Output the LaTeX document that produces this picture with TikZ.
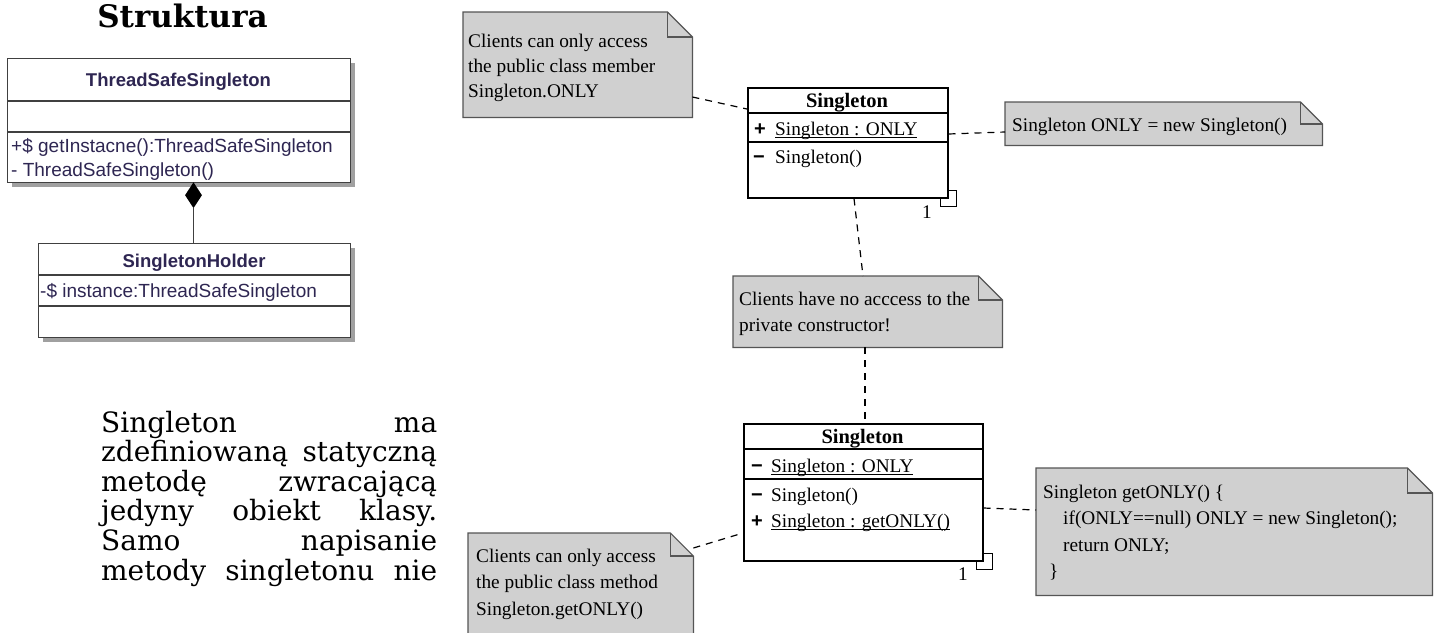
\documentclass[tikz,border=0pt]{standalone}
\usepackage{fontspec}
\setmainfont{Liberation Serif}
\newfontfamily\uisans{Liberation Sans}
\newfontfamily\bodyserif{DejaVu Serif}
\usetikzlibrary{shapes.geometric,shadows}

\definecolor{umlink}{RGB}{46,38,82}
\definecolor{notefill}{RGB}{208,208,208}
\definecolor{noteline}{RGB}{85,85,85}
\definecolor{classline}{RGB}{64,64,64}
\definecolor{shadowgray}{RGB}{160,160,160}

% multi-line text block whose baseline is the first line's baseline
\newcommand\lines[1]{\vtop{\let\\\cr\halign{##\hfil\cr#1\crcr}}}
% underline sitting close to the baseline (UML static members)
\newcommand\ulined[1]{\setbox0\hbox{#1}\rlap{\rule[-2.6pt]{\wd0}{1.1pt}}\box0}
% one justified line of the description paragraph
\newcommand\fullline[1]{\hbox to 336pt{#1}}
% grey note with a folded top-right corner, drawn over a named node
\newcommand\foldnote[2]{%
  \filldraw[notepaint] (#1.north west) -- ([xshift=-#2]#1.north east)
    -- ([yshift=-#2]#1.north east) -- (#1.south east) -- (#1.south west) -- cycle;
  \draw[notepaint, fill=none] ([xshift=-#2]#1.north east) |- ([yshift=-#2]#1.north east);}

\tikzset{
  classbox/.style={draw=classline, line width=1.3pt, fill=white, inner sep=0pt, anchor=north west,
    drop shadow={shadow xshift=4pt, shadow yshift=-4pt, fill=shadowgray, opacity=1}},
  classdiv/.style={draw=classline, line width=1.3pt},
  umlbox/.style={draw=black, line width=1.5pt, fill=white, inner sep=0pt, anchor=north west},
  umldiv/.style={draw=black, line width=1.3pt},
  noterect/.style={inner sep=0pt, anchor=north west},
  notepaint/.style={fill=notefill, draw=noteline, line width=1.2pt, line join=miter},
  txt/.style={inner sep=0pt, anchor=base west},
  sanstitle/.style={inner sep=0pt, anchor=base, text=umlink, font=\uisans\bfseries\fontsize{18.5}{22}\selectfont},
  sanstext/.style={txt, text=umlink, font=\uisans\fontsize{19}{22}\selectfont},
  notetext/.style={txt, font=\fontsize{19.3}{26.5}\selectfont},
  umltitle/.style={inner sep=0pt, anchor=base, font=\bfseries\fontsize{20.5}{24}\selectfont},
  umltext/.style={txt, font=\fontsize{19.3}{24}\selectfont},
  vis/.style={inner sep=0pt, anchor=base, font=\uisans\bfseries\fontsize{20}{20}\selectfont},
  mult/.style={inner sep=0pt, anchor=base, font=\fontsize{19.3}{24}\selectfont},
  link/.style={draw=black, line width=1.2pt, dash pattern=on 7pt off 6pt},
  assoc/.style={draw=black, line width=1.3pt},
  compdiamond/.style={diamond, fill=black, draw=none, inner sep=0pt, minimum width=17pt, minimum height=26pt},
  heading/.style={inner sep=0pt, anchor=base, font=\bodyserif\bfseries\fontsize{31}{36}\selectfont},
  bodytext/.style={txt, font=\bodyserif\fontsize{28}{29.6}\selectfont},
}

\begin{document}
\begin{tikzpicture}[x=1pt, y=-1pt]
\fill[white] (0,0) rectangle (1437,632);
\useasboundingbox (0,0) rectangle (1437,632);
\clip (0,0) rectangle (1437,632);

% ---------- heading ----------
\node[heading] (title) at (182.5,27) {Struktura};

% ---------- thread-safe singleton with holder ----------
\node[classbox, minimum width=343pt, minimum height=124pt] (ts) at (7,58) {};
\draw[classdiv] (ts.west |- 0,101) -- (ts.east |- 0,101);
\draw[classdiv] (ts.west |- 0,132) -- (ts.east |- 0,132);
\node[sanstitle] (tsname) at (178.5,86) {ThreadSafeSingleton};
\node[sanstext] (tsop1) at (11,152) {+\$ getInstacne():ThreadSafeSingleton};
\node[sanstext] (tsop2) at (11,176) {- ThreadSafeSingleton()};

\node[classbox, minimum width=312pt, minimum height=94pt] (h) at (38,243) {};
\draw[classdiv] (h.west |- 0,275) -- (h.east |- 0,275);
\draw[classdiv] (h.west |- 0,306) -- (h.east |- 0,306);
\node[sanstitle] (hname) at (194,267) {SingletonHolder};
\node[sanstext] (hattr) at (40,297) {-\$ instance:ThreadSafeSingleton};

\node[compdiamond, anchor=north] (dia) at (193.5,182) {};
\draw[classdiv] (dia.south) -- (dia.south |- h.north);

% ---------- description ----------
\node[bodytext] (desc) at (101,432) {\lines{%
  \fullline{Singleton\hfill ma}\\
  \fullline{zdefiniowaną\hfill statyczną}\\
  \fullline{metodę\hfill zwracającą}\\
  \fullline{jedyny\hfill obiekt\hfill klasy.}\\
  \fullline{Samo\hfill napisanie}\\
  \fullline{metody\hfill singletonu\hfill nie}}};

% ---------- eager singleton ----------
\node[umlbox, minimum width=200pt, minimum height=110pt] (s1) at (747,87) {};
\draw[umldiv] (s1.west |- 0,113) -- (s1.east |- 0,113);
\draw[umldiv] (s1.west |- 0,142) -- (s1.east |- 0,142);
\node[umltitle] (s1name) at (847,107) {Singleton};
\node[vis] (s1v1) at (760,135) {+};
\node[umltext] (s1a1) at (775,135) {\ulined{Singleton : ONLY}};
\node[vis] (s1v2) at (759,163) {−};
\node[umltext] (s1o1) at (775,163) {Singleton()};
\draw[assoc] ([yshift=8pt]s1.south east) -- ++(8,0) -- ++(0,16) -- ++(-16,0) -- ++(0,-8);
\node[mult] (s1m) at (927,218) {1};

% ---------- lazy singleton ----------
\node[umlbox, minimum width=239pt, minimum height=137pt] (s2) at (743,423) {};
\draw[umldiv] (s2.west |- 0,449) -- (s2.east |- 0,449);
\draw[umldiv] (s2.west |- 0,479) -- (s2.east |- 0,479);
\node[umltitle] (s2name) at (862.5,443) {Singleton};
\node[vis] (s2v1) at (757,472) {−};
\node[umltext] (s2a1) at (771,472) {\ulined{Singleton : ONLY}};
\node[vis] (s2v2) at (757,501) {−};
\node[umltext] (s2o1) at (771,501) {Singleton()};
\node[vis] (s2v3) at (757,527) {+};
\node[umltext] (s2o2) at (771,527) {\ulined{Singleton : getONLY()}};
\draw[assoc] ([yshift=8pt]s2.south east) -- ++(9,0) -- ++(0,16) -- ++(-16,0) -- ++(0,-8);
\node[mult] (s2m) at (963,580) {1};

% ---------- notes ----------
\node[noterect, minimum width=229pt, minimum height=105pt] (n1) at (463,12) {};
\foldnote{n1}{25pt}
\node[notetext, font=\fontsize{19.3}{25}\selectfont] (n1t) at (468,47)
  {\lines{Clients can only access\\the public class member\\Singleton.ONLY}};

\node[noterect, minimum width=317pt, minimum height=43pt] (n2) at (1005,102) {};
\foldnote{n2}{22pt}
\node[notetext] (n2t) at (1012,131) {Singleton ONLY = new Singleton()};

\node[noterect, minimum width=269pt, minimum height=71pt] (n3) at (733,276) {};
\foldnote{n3}{24pt}
\node[notetext] (n3t) at (739,305)
  {\lines{Clients have no acccess to the\\private constructor!}};

\node[noterect, minimum width=396pt, minimum height=127pt] (n4) at (1036,468) {};
\foldnote{n4}{25pt}
\node[notetext] (n4t) at (1043,498)
  {\lines{Singleton getONLY() \{\\\hspace*{20pt}if(ONLY==null) ONLY = new Singleton();\\\hspace*{20pt}return ONLY;\\\hspace*{6pt}\}}};

\node[noterect, minimum width=225pt, minimum height=120pt] (n5) at (468,533) {};
\foldnote{n5}{23pt}
\node[notetext] (n5t) at (476,562)
  {\lines{Clients can only access\\the public class method\\Singleton.getONLY()}};

% ---------- note links ----------
\draw[link] (n1.east |- 0,97) -- (s1.west |- 0,109);
\draw[link] (s1.east |- 0,134) -- (n2.west |- 0,132);
\draw[link] (s1.south -| 854,0) -- (n3.north -| 863,0);
\draw[link] (n3.south -| 865,0) -- (s2.north -| 865,0);
\draw[link] (s2.east |- 0,508) -- (n4.west |- 0,510);
\draw[link] (n5.east |- 0,548) -- (s2.west |- 0,533);
\end{tikzpicture}
\end{document}
